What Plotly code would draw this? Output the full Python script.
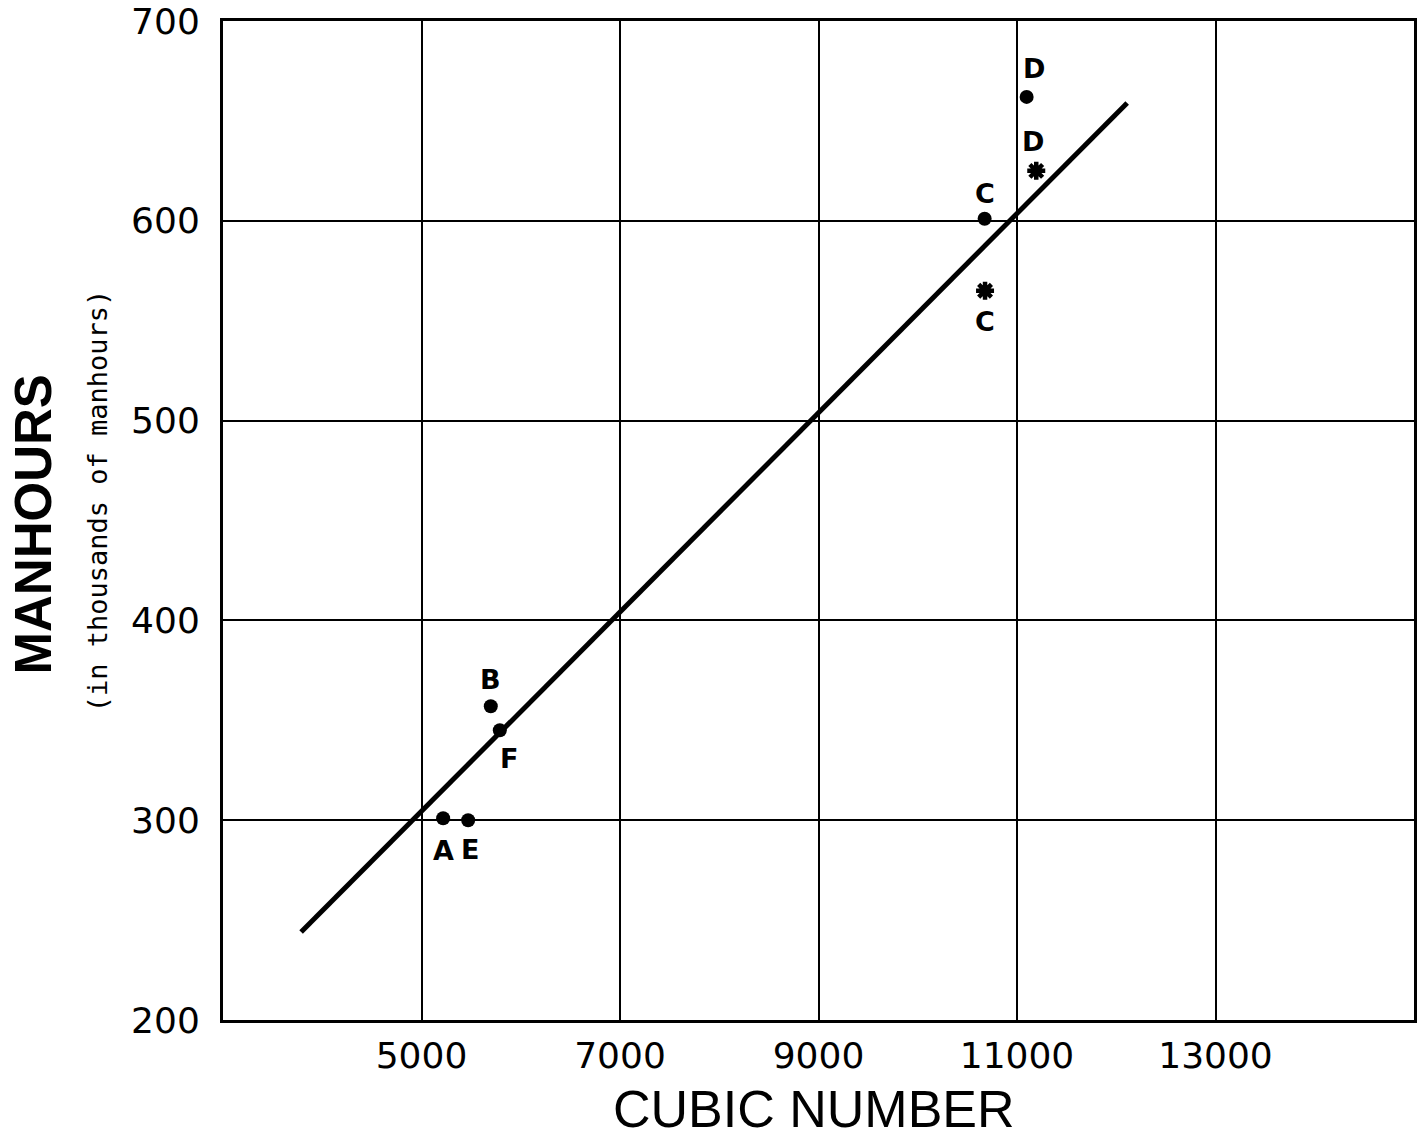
import plotly.graph_objects as go

# Observed vessels: cubic number vs. manhours (thousands)
dot_labels = ["A", "E", "B", "F", "C", "D"]
dot_cubic = [5218, 5470, 5698, 5789, 10674, 11097]
dot_manhours = [301, 300, 357, 345, 601, 662]

# Estimated values (asterisks)
star_labels = ["C", "D"]
star_cubic = [10678, 11194]
star_manhours = [565, 625]

# Fitted trend line end points
fit_cubic = [3787, 12110]
fit_manhours = [244, 659]

x_ticks = [5000, 7000, 9000, 11000, 13000]
y_ticks = [200, 300, 400, 500, 600, 700]

# label offsets in pixels (dx, dy) for each point label
dot_label_shift = {"A": (0, -32), "E": (2, -29), "B": (0, 27), "F": (9, -28),
                   "C": (0, 25), "D": (7, 28)}
star_label_shift = {"C": (0, -31), "D": (-3, 29)}

fig = go.Figure()

fig.add_trace(go.Scatter(
    x=fit_cubic, y=fit_manhours, mode="lines",
    line=dict(color="black", width=5), hoverinfo="skip", showlegend=False))

fig.add_trace(go.Scatter(
    x=dot_cubic, y=dot_manhours, mode="markers",
    marker=dict(color="black", size=14, symbol="circle"), showlegend=False))

fig.add_trace(go.Scatter(
    x=star_cubic, y=star_manhours, mode="markers",
    marker=dict(color="black", size=15, symbol="asterisk",
                line=dict(color="black", width=4.5)), showlegend=False))

label_font = dict(family="DejaVu Sans, sans-serif", size=27,
                  color="black", weight="bold")
for lab, xv, yv in zip(dot_labels, dot_cubic, dot_manhours):
    dx, dy = dot_label_shift[lab]
    fig.add_annotation(x=xv, y=yv, text=lab, showarrow=False, font=label_font,
                       xshift=dx, yshift=dy)
for lab, xv, yv in zip(star_labels, star_cubic, star_manhours):
    dx, dy = star_label_shift[lab]
    fig.add_annotation(x=xv, y=yv, text=lab, showarrow=False, font=label_font,
                       xshift=dx, yshift=dy)

# y-axis titles drawn as rotated annotations (two lines, two fonts)
fig.add_annotation(xref="paper", yref="paper", x=-0.1583, y=0.4965,
                   xanchor="center", yanchor="middle",
                   text="MANHOURS", showarrow=False, textangle=-90,
                   font=dict(family="Liberation Sans, Arial, sans-serif",
                             size=51, color="black", weight="bold"))
fig.add_annotation(xref="paper", yref="paper", x=-0.1055, y=0.5195,
                   xanchor="center", yanchor="middle",
                   text="(in thousands of manhours)", showarrow=False, textangle=-90,
                   font=dict(family="DejaVu Sans Mono, monospace", size=27, color="black"))

# x-axis title
fig.add_annotation(xref="paper", yref="paper", x=0.4966, y=-0.089,
                   xanchor="center", yanchor="middle",
                   text="CUBIC NUMBER", showarrow=False,
                   font=dict(family="Liberation Sans, Arial, sans-serif",
                             size=52, color="black"))

tick_font = dict(family="DejaVu Sans, sans-serif", size=36, color="black")

fig.update_layout(
    width=1418, height=1138,
    margin=dict(l=223, r=1, t=19, b=118),
    paper_bgcolor="white", plot_bgcolor="white",
    showlegend=False,
    xaxis=dict(
        range=[3000, 15000], tickvals=x_ticks,
        ticktext=[f"{v}" for v in x_ticks],
        showgrid=True, gridcolor="black", gridwidth=2,
        showline=True, linecolor="black", linewidth=2.5, mirror=True,
        ticks="", ticklabelstandoff=2, zeroline=False,
        ticklabeloverflow="allow",
        tickfont=tick_font,
    ),
    yaxis=dict(
        range=[200, 700], tickvals=y_ticks,
        showgrid=True, gridcolor="black", gridwidth=2,
        showline=True, linecolor="black", linewidth=3, mirror=True,
        ticks="", ticklabelstandoff=13, zeroline=False,
        ticklabeloverflow="allow",
        tickfont=tick_font,
    ),
)

fig.write_html("out.html")
